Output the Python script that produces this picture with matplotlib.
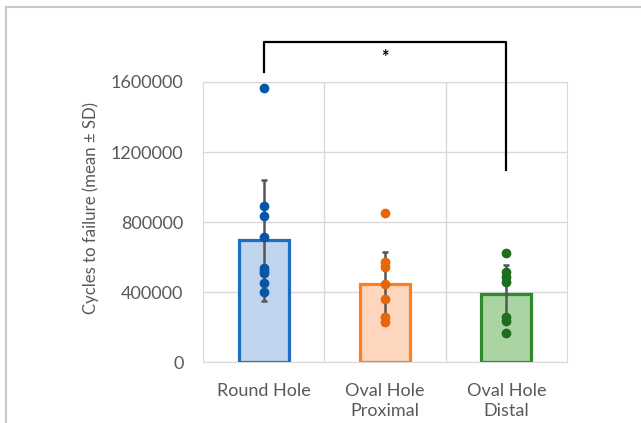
import numpy as np
import matplotlib.pyplot as plt
from matplotlib.lines import Line2D

groups = ["Round Hole", "Oval Hole\nProximal", "Oval Hole\nDistal"]
means = [695000, 444000, 389000]
sds = [345000, 183000, 165000]
round_pts = [1564000, 893000, 834000, 714000, 535000, 520000, 507000, 450000, 402000]
prox_pts = [850000, 570000, 541000, 444000, 358000, 259000, 230000]
distal_pts = [625000, 512000, 488000, 459000, 255000, 236000, 168000]
yticks = [0, 400000, 800000, 1200000, 1600000]

edge_cols = ["#1f6cc4", "#ff7f20", "#2f8a2f"]
fill_cols = ["#c1d4ee", "#fdd6bd", "#aad5a2"]
dot_cols = ["#0a56a6", "#e8650a", "#1f6e1f"]

plt.rcParams['font.family'] = ['Lato', 'DejaVu Sans']

fig = plt.figure(figsize=(6.41, 4.23), dpi=100)
ax = fig.add_axes([203/641, 1-362/423, (567-203)/641, (362-82)/423])

x = np.arange(len(groups))
ax.bar(x, means, width=0.41, color=fill_cols, edgecolor=edge_cols, linewidth=2.3, zorder=2)
ax.errorbar(x, means, yerr=sds, fmt='none', ecolor="#555555", elinewidth=1.8,
            capsize=2.5, capthick=1.8, zorder=3)
for i, pts in enumerate([round_pts, prox_pts, distal_pts]):
    ax.plot([x[i]] * len(pts), pts, 'o', color=dot_cols[i], markersize=6, zorder=4)

ax.set_xlim(-0.5, 2.5)
ax.set_ylim(0, 1600000)
ax.set_yticks(yticks)
ax.set_yticklabels([str(v) for v in yticks])
ax.set_xticks(x)
ax.set_xticklabels(groups, linespacing=1.3)
ax.set_xticks([0.5, 1.5], minor=True)
ax.grid(axis='y', color="#d9d9d9", linewidth=1, zorder=0)
ax.grid(axis='x', which='minor', color="#d9d9d9", linewidth=1, zorder=0)
ax.tick_params(axis='both', which='both', length=0, labelsize=13, colors="#595959")
ax.tick_params(axis='y', pad=14)
ax.tick_params(axis='x', pad=15)
for s in ax.spines.values():
    s.set_color("#d9d9d9")
ylab = ax.set_ylabel("Cycles to failure (mean ± SD)", fontsize=12.3, color="#595959")
ax.yaxis.set_label_coords(-0.285, 0.55)

# fit the y label to the length seen in the reference (~214 px)
fig.canvas.draw()
h = ylab.get_window_extent().height
ylab.set_fontsize(12.3 * 214 / h)

# significance bracket
ax.plot([0, 0, 2, 2], [1657000, 1829000, 1829000, 1097000], color="black",
        linewidth=1.6, clip_on=False, zorder=5)
ax.text(1, 1740000, "*", ha='center', va='center', fontsize=13, fontweight='bold')

# outer frame
fig.add_artist(Line2D([6/641, 1], [1-7.5/423, 1-7.5/423], color="#c8c8c8", linewidth=1.5))
fig.add_artist(Line2D([6/641, 6/641], [0, 1-7.5/423], color="#c8c8c8", linewidth=1.5))

fig.savefig("out.png", dpi=100)
